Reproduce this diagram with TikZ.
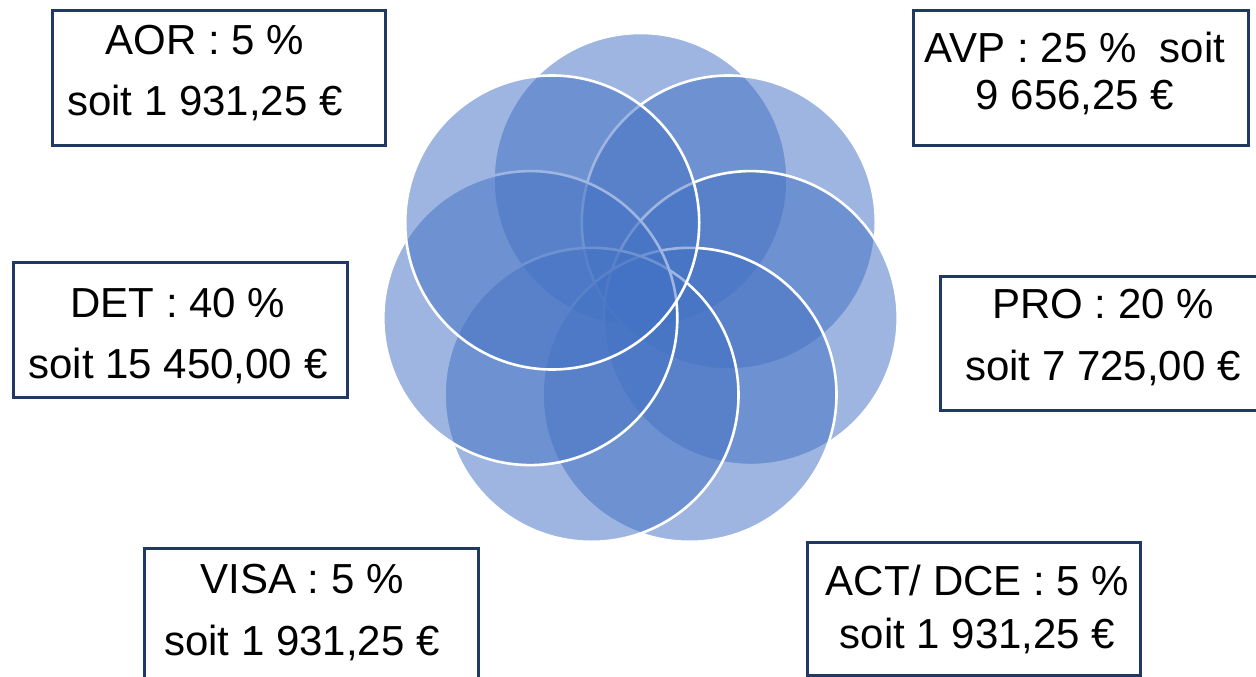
\documentclass[tikz,border=0pt]{standalone}
\usepackage{fontspec}
\setmainfont{Liberation Sans}
\definecolor{vblue}{RGB}{68,114,196}
\definecolor{navy}{RGB}{31,56,100}
\begin{document}
\begin{tikzpicture}[x=1pt,y=-1pt,
  venn/.style={fill=vblue, fill opacity=0.52, draw=white, line width=2.6pt},
  box/.style={draw=navy, line width=3pt, rectangle, inner sep=0pt},
  lbl/.style={font=\fontsize{42}{50}\selectfont, inner sep=0pt, anchor=base, text=black}]
\useasboundingbox (0,0) rectangle (1256,677);
\fill[white] (0,0) rectangle (1256,677);
\clip (0,0) rectangle (1256,677);
% circles (drawn clockwise from the top)
\path[venn] (640.5,180.0) circle[radius=147pt];
\path[venn] (728.8,222.5) circle[radius=147pt];
\path[venn] (750.7,318.1) circle[radius=147pt];
\path[venn] (689.5,394.8) circle[radius=147pt];
\path[venn] (591.5,394.8) circle[radius=147pt];
\path[venn] (530.3,318.1) circle[radius=147pt];
\path[venn] (552.2,222.5) circle[radius=147pt];
% boxes
\node[box, minimum width=333pt, minimum height=134pt] (aor) at (218.5,78) {};
\node[box, minimum width=335pt, minimum height=134pt] (avp) at (1080.5,78) {};
\node[box, minimum width=334pt, minimum height=135pt] (det) at (180,329.5) {};
\node[box, minimum width=340pt, minimum height=134pt] (pro) at (1110,343) {};
\node[box, minimum width=334pt, minimum height=152pt] (visa) at (311,624) {};
\node[box, minimum width=333pt, minimum height=133pt] (act) at (973.5,608.5) {};
% labels
\node[lbl] (aorA) at (205,55) {AOR : 5 \%};
\node[lbl] (aorB) at (205,115) {soit 1 931,25 €};
\node[lbl] (avpA) at (1075,63) {AVP : 25 \%\ \ soit};
\node[lbl] (avpB) at (1075,110) {9 656,25 €};
\node[lbl] (detA) at (178,317) {DET : 40 \%};
\node[lbl] (detB) at (178,378) {soit 15 450,00 €};
\node[lbl] (proA) at (1103,318) {PRO : 20 \%};
\node[lbl] (proB) at (1103,380) {soit 7 725,00 €};
\node[lbl] (visaA) at (302,593) {VISA : 5 \%};
\node[lbl] (visaB) at (302,655) {soit 1 931,25 €};
\node[lbl] (actA) at (977.5,595) {ACT/ DCE : 5 \%};
\node[lbl] (actB) at (977.5,648) {soit 1 931,25 €};
\end{tikzpicture}
\end{document}
